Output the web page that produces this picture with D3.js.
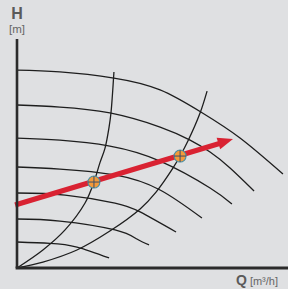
<!DOCTYPE html>
<html><head><meta charset="utf-8">
<script src="https://cdn.jsdelivr.net/npm/d3@7"></script>
<style>html,body{margin:0;padding:0;background:#dfe0e2;}svg{display:block;}</style>
</head><body>
<script>
// Pump curves H(Q) at different speeds [Q, H]
const pump1 = [[0,8.68],[1.59,8.60],[3.59,8.33],[5.30,7.81],[6.81,6.84],[8.26,5.70],[9.85,4.12]];
const pump2 = [[0,7.15],[1.59,7.06],[3.44,6.80],[5.30,6.18],[6.41,5.61],[7.15,5.09],[7.89,4.39],[8.78,3.38]];
const pump3 = [[0,5.70],[1.59,5.61],[3.44,5.35],[5.30,4.69],[7.15,3.51],[7.96,2.81]];
const pump4 = [[0,4.43],[1.59,4.34],[3.63,4.08],[5.30,3.42],[6.85,2.19]];
const pump5 = [[0,3.29],[1.78,3.20],[3.63,2.85],[4.56,2.46],[5.89,1.58]];
const pump6 = [[0,2.15],[1.59,2.06],[3.63,1.67],[4.44,1.27],[4.89,1.01]];
const pump7 = [[0,1.14],[1.22,1.08],[2.22,0.92],[3.41,0.44]];
// System curves
const systemA = [[0,0],[0.96,0.79],[1.78,1.67],[2.52,2.85],[2.85,3.77],[3.07,4.61],[3.26,5.26],[3.41,6.18],[3.48,6.80],[3.59,8.60]];
const systemB = [[0,0],[0.96,0.26],[2.22,0.79],[3.44,1.62],[4.56,2.59],[5.15,3.33],[5.78,4.39],[6.04,4.91],[6.33,5.57],[6.78,6.80],[7.04,7.76]];
// Operating points and arrow
const operatingPoints = [[2.85,3.77],[6.04,4.91]];
const arrowStart = [-0.07,2.76];
const arrowEnd = [7.46,5.46];
const arrowTip = [8.0,5.66];
const labels = {yTitle:"H", yUnit:"[m]", xTitle:"Q", xUnit:"[m³/h]"};

const W=288,H=289;
const x = d3.scaleLinear().domain([0,10]).range([17,287]);
const y = d3.scaleLinear().domain([0,10]).range([268,40]);
const svg = d3.select("body").append("svg").attr("width",W).attr("height",H);
svg.append("rect").attr("width",W).attr("height",H).attr("fill","#dfe0e2");

const pumpLine = d3.line().x(d=>x(d[0])).y(d=>y(d[1])).curve(d3.curveNatural);
const sysLine = d3.line().x(d=>x(d[0])).y(d=>y(d[1])).curve(d3.curveCatmullRom.alpha(0.5));
svg.selectAll("path.p").data([pump1,pump2,pump3,pump4,pump5,pump6,pump7]).join("path").attr("class","p")
  .attr("d",pumpLine).attr("fill","none").attr("stroke","#1e1e1e").attr("stroke-width",1.3);
svg.selectAll("path.s").data([systemA,systemB]).join("path").attr("class","s")
  .attr("d",sysLine).attr("fill","none").attr("stroke","#1e1e1e").attr("stroke-width",1.3);

// red arrow
svg.append("line").attr("x1",x(arrowStart[0])).attr("y1",y(arrowStart[1]))
  .attr("x2",x(arrowEnd[0])+1).attr("y2",y(arrowEnd[1]))
  .attr("stroke","#d92232").attr("stroke-width",5.2);
{
  const tx=x(arrowTip[0]), ty=y(arrowTip[1]);
  const bx=x(arrowEnd[0]), by=y(arrowEnd[1]);
  const dx=tx-bx, dy=ty-by, L=Math.hypot(dx,dy), nx=-dy/L, ny=dx/L, hw=6;
  svg.append("path").attr("d",`M${tx},${ty}L${bx+nx*hw},${by+ny*hw}L${bx-nx*hw},${by-ny*hw}Z`).attr("fill","#d92232");
}
// operating points
const g = svg.selectAll("g.op").data(operatingPoints).join("g").attr("class","op")
  .attr("transform",d=>`translate(${x(d[0])},${y(d[1])})`);
g.append("circle").attr("r",6).attr("fill","#f39a3a").attr("stroke","#4a8fa3").attr("stroke-width",1.1);
g.append("line").attr("x1",-6).attr("x2",6).attr("stroke","#3a4f6a").attr("stroke-width",1);
g.append("line").attr("y1",-6).attr("y2",6).attr("stroke","#3a4f6a").attr("stroke-width",1);

// axes
const xAxis = d3.axisBottom(x).tickValues([]).tickSizeOuter(0);
const yAxis = d3.axisLeft(y).tickValues([]).tickSizeOuter(0);
const gx = svg.append("g").attr("transform",`translate(0,${y(0)})`).call(xAxis);
gx.select(".domain").attr("stroke","#2b2b2b").attr("stroke-width",2.8).attr("d",`M${x(0)-1.4},0H288`);
const gy = svg.append("g").attr("transform",`translate(${x(0)},0)`).call(yAxis);
gy.select(".domain").attr("stroke","#2b2b2b").attr("stroke-width",2.6).attr("d",`M0,39V${y(0)}`);

svg.append("text").attr("x",17).attr("y",19).attr("text-anchor","middle")
  .attr("font-family","Liberation Sans, Arial, sans-serif").attr("font-weight","bold").attr("font-size",16)
  .attr("fill","#5a5a5a").text(labels.yTitle);
svg.append("text").attr("x",17).attr("y",33).attr("text-anchor","middle")
  .attr("font-family","Liberation Sans, Arial, sans-serif").attr("font-size",11.5)
  .attr("fill","#666").text(labels.yUnit);
const t = svg.append("text").attr("x",236).attr("y",285)
  .attr("font-family","Liberation Sans, Arial, sans-serif").attr("fill","#5a5a5a");
t.append("tspan").attr("font-weight","bold").attr("font-size",14).text(labels.xTitle);
t.append("tspan").attr("dx",3).attr("font-size",11).attr("fill","#666").text(labels.xUnit);
</script>
</body></html>
